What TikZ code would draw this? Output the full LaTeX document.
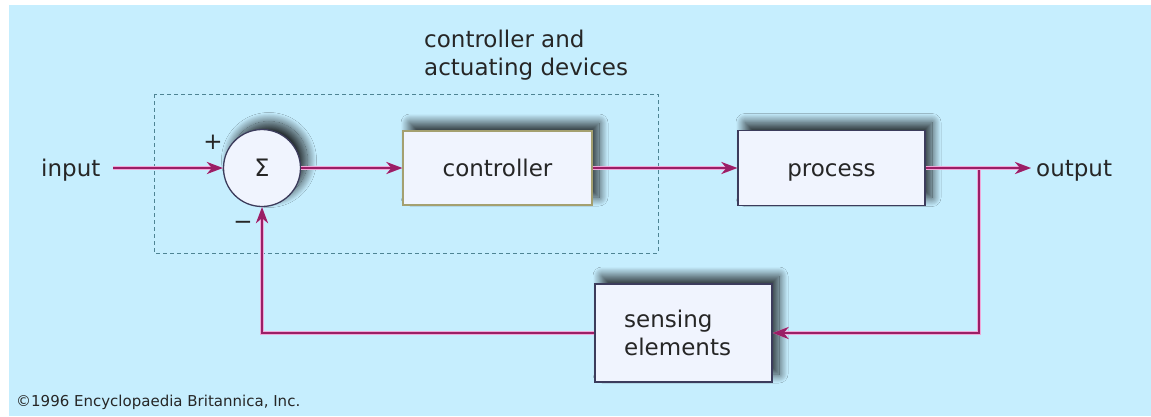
\documentclass[tikz,border=0pt]{standalone}
\usepackage{fontspec}
\setmainfont{DejaVu Sans}
\usetikzlibrary{arrows.meta,shadows.blur}
\definecolor{bg}{HTML}{C6EEFE}
\definecolor{wire}{HTML}{9A1F66}
\definecolor{halo}{HTML}{F0A8D8}
\definecolor{boxfill}{HTML}{F0F4FE}
\definecolor{boxline}{HTML}{3C3C5C}
\definecolor{ctrlline}{HTML}{A4A070}
\definecolor{groupline}{HTML}{4E8494}
\tikzset{
  lbl/.style={font=\fontsize{23}{28}\selectfont, text=black!85, inner sep=0pt},
  blk/.style={draw=boxline, line width=1.3pt, fill=boxfill, rectangle, inner sep=0pt,
    blur shadow={shadow xshift=7pt, shadow yshift=8pt, shadow blur radius=9pt, shadow opacity=80, shadow blur steps=25}},
  wireline/.style={draw=wire, line width=1.8pt, preaction={draw=halo, line width=3.6pt}},
  arr/.style={wireline, -{Stealth[length=16pt,width=12pt,inset=5pt]}},
}
\begin{document}
\begin{tikzpicture}[x=1pt,y=-1pt]
\useasboundingbox (0,0) rectangle (1151,416);
\fill[white] (0,0) rectangle (1151,416);
\fill[bg] (9,5) rectangle (1151,416);
% dashed group
\draw[groupline, line width=1pt, dash pattern=on 4pt off 3pt] (154,94) rectangle (658,253);
\node[lbl, anchor=west, align=left] (title) at (424,55) {controller and\\actuating devices};
% blocks
\node[blk, circle, minimum size=77pt] (sum) at (262,168) {};
\node[font=\fontsize{24}{28}\selectfont, inner sep=0pt, text=black!85] at (sum.center) {Σ};
\node[blk, draw=ctrlline, minimum width=189pt, minimum height=74pt] (ctrl) at (497.5,168) {};
\node[lbl] at (ctrl.center) {controller};
\node[blk, minimum width=187pt, minimum height=75pt] (proc) at (831.5,168) {};
\node[lbl, anchor=base] at (831.5,176) {process};
\node[blk, minimum width=177pt, minimum height=98pt] (sens) at (683.5,333) {};
\node[lbl, anchor=west, align=left] at (624,333) {sensing\\elements};
% texts
\node[lbl, anchor=base west] (in) at (41,176) {input};
\node[lbl, anchor=base west] (out) at (1036,176) {output};
\node[lbl] (plus) at (213,142) {+};
\node[lbl] (minus) at (243,225) {−};
\node[font=\fontsize{15}{18}\selectfont, anchor=west, inner sep=0pt, text=black!85] (copy) at (16,402) {©1996 Encyclopaedia Britannica, Inc.};
% connectors
\coordinate (inend) at (113,168);
\coordinate (br) at (979,168);
\coordinate (outend) at (1031,168);
\draw[arr] (inend) -- (sum.west);
\draw[arr] (sum.east) -- (ctrl.west);
\draw[arr] (ctrl.east) -- (proc.west);
\draw[arr] (br) |- (sens.east);
\draw[arr] (proc.east) -- (outend);
\draw[arr] (sens.west) -| (sum.south);
\end{tikzpicture}
\end{document}
